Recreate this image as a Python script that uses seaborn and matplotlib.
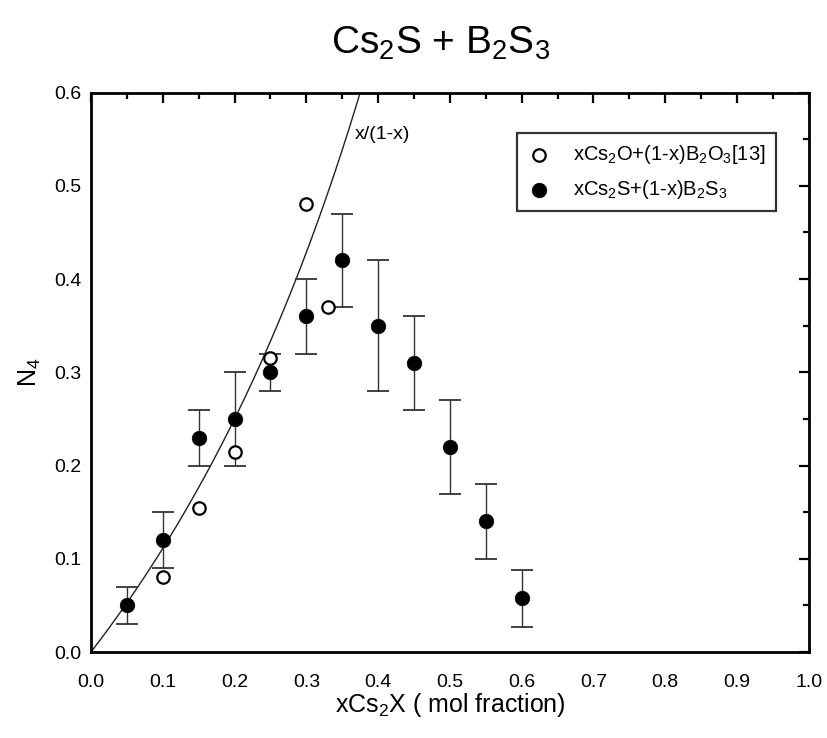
import numpy as np
import pandas as pd
import matplotlib
matplotlib.use("Agg")
import matplotlib.pyplot as plt
import seaborn as sns
from matplotlib.ticker import MultipleLocator

sns.set_theme(style="white")
plt.rcParams['font.family'] = ['Liberation Sans', 'DejaVu Sans']
plt.rcParams['mathtext.default'] = 'regular'
plt.rcParams['text.color'] = 'black'
plt.rcParams['axes.labelcolor'] = 'black'

# Cs2O + B2O3 [13] (open circles)
oxide_x = [0.10, 0.15, 0.20, 0.25, 0.30, 0.33]
oxide_n4 = [0.08, 0.155, 0.215, 0.315, 0.48, 0.37]

# Cs2S + B2S3 (filled circles with error bars)
sulf_x = [0.05, 0.10, 0.15, 0.20, 0.25, 0.30, 0.35, 0.40, 0.45, 0.50, 0.55, 0.60]
sulf_n4 = [0.05, 0.12, 0.23, 0.25, 0.30, 0.36, 0.42, 0.35, 0.31, 0.22, 0.14, 0.058]
sulf_lo = [0.03, 0.09, 0.20, 0.20, 0.28, 0.32, 0.37, 0.28, 0.26, 0.17, 0.10, 0.027]
sulf_hi = [0.07, 0.15, 0.26, 0.30, 0.32, 0.40, 0.47, 0.42, 0.36, 0.27, 0.18, 0.088]

# theoretical curve x/(1-x)
curve_x = np.linspace(0.0, 0.375, 200)
curve_y = curve_x / (1 - curve_x)

xticks = [0.0, 0.1, 0.2, 0.3, 0.4, 0.5, 0.6, 0.7, 0.8, 0.9, 1.0]
yticks = [0.0, 0.1, 0.2, 0.3, 0.4, 0.5, 0.6]

fig = plt.figure(figsize=(8.27, 7.38), dpi=100)
ax = fig.add_axes([0.110, 0.1165, 0.868, 0.758])

sns.lineplot(x=curve_x, y=curve_y, ax=ax, color='#222222', lw=1.0, sort=False)

lo_err = np.array(sulf_n4) - np.array(sulf_lo)
hi_err = np.array(sulf_hi) - np.array(sulf_n4)
ax.errorbar(sulf_x, sulf_n4, yerr=[lo_err, hi_err], fmt='none', ecolor='#333333',
            elinewidth=1.0, capsize=8, capthick=1.3, zorder=2)

sns.scatterplot(x=oxide_x, y=oxide_n4, ax=ax, marker='o', s=80, facecolor='white',
                edgecolor='black', linewidth=1.6, zorder=3,
                label=r'xCs$_2$O+(1-x)B$_2$O$_3$[13]')
sns.scatterplot(x=sulf_x, y=sulf_n4, ax=ax, marker='o', s=110, color='black',
                edgecolor='black', linewidth=0.5, zorder=4,
                label=r'xCs$_2$S+(1-x)B$_2$S$_3$')

ax.text(0.368, 0.555, 'x/(1-x)', fontsize=14, ha='left', va='center', color='black')

ax.set_xlim(0, 1.0)
ax.set_ylim(0, 0.6)
ax.set_xticks(xticks)
ax.set_xticklabels([f'{v:.1f}' for v in xticks])
ax.set_yticks(yticks)
ax.set_yticklabels([f'{v:.1f}' for v in yticks])
ax.xaxis.set_minor_locator(MultipleLocator(0.05))
ax.yaxis.set_minor_locator(MultipleLocator(0.05))
ax.tick_params(which='both', direction='in', top=True, right=True, colors='black',
               width=1.6, labelsize=14, labelcolor='black')
ax.tick_params(which='major', length=7)
ax.tick_params(axis='y', which='major', pad=7)
ax.tick_params(axis='x', which='major', pad=16)
ax.tick_params(which='minor', length=4)
for sp in ax.spines.values():
    sp.set_color('black')
    sp.set_linewidth(2.0)

ax.set_xlabel(r'xCs$_2$X ( mol fraction)', fontsize=18, labelpad=0)
ax.set_ylabel(r'N$_4$', fontsize=18, labelpad=8)
fig.suptitle(r'Cs$_2$S + B$_2$S$_3$', fontsize=28, x=0.533, y=0.967, color='black')

leg = ax.legend(loc='upper right', bbox_to_anchor=(0.954, 0.928), borderaxespad=0,
                fontsize=14.5, frameon=True, fancybox=False, edgecolor='black',
                handletextpad=1.1, borderpad=0.5, labelspacing=0.6, handlelength=1.2)
leg.get_frame().set_linewidth(1.6)
for t in leg.get_texts():
    t.set_color('black')

fig.savefig('out.png', dpi=100, facecolor='white')
